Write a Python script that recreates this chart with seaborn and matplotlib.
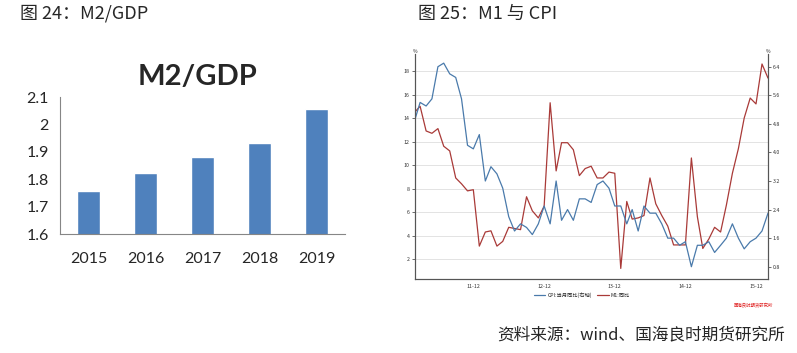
import matplotlib
matplotlib.use("Agg")
import matplotlib.pyplot as plt
import matplotlib.dates as mdates
from matplotlib.lines import Line2D
import seaborn as sns
import pandas as pd

# Data: M2/GDP
years = ["2015", "2016", "2017", "2018", "2019"]
m2_gdp = [1.757, 1.823, 1.882, 1.933, 2.058]

# Data: M1 and CPI, monthly 2011-02 .. 2016-02
months = pd.date_range("2011-02-01", "2016-02-01", freq="MS")
m1_yoy = [
    14.5, 15.0, 12.9, 12.7, 13.1, 11.6, 11.2, 8.9, 8.4, 7.8, 7.9,
    3.1, 4.3, 4.4, 3.1, 3.5, 4.7, 4.6, 4.5, 7.3, 6.1, 5.5, 6.5,
    15.3, 9.5, 11.9, 11.9, 11.3, 9.1, 9.7, 9.9, 8.9, 8.9, 9.4, 9.3,
    1.2, 6.9, 5.4, 5.5, 5.7, 8.9, 6.7, 5.7, 4.8, 3.2, 3.2, 3.2,
    10.6, 5.6, 2.9, 3.7, 4.7, 4.3, 6.6, 9.3, 11.4, 14.0, 15.7, 15.2,
    18.6, 17.4,
]
cpi_yoy = [
    4.9, 5.4, 5.3, 5.5, 6.4, 6.5, 6.2, 6.1, 5.5, 4.2, 4.1,
    4.5, 3.2, 3.6, 3.4, 3.0, 2.2, 1.8, 2.0, 1.9, 1.7, 2.0, 2.5,
    2.0, 3.2, 2.1, 2.4, 2.1, 2.7, 2.7, 2.6, 3.1, 3.2, 3.0, 2.5,
    2.5, 2.0, 2.4, 1.8, 2.5, 2.3, 2.3, 2.0, 1.6, 1.6, 1.4, 1.5,
    0.8, 1.4, 1.4, 1.5, 1.2, 1.4, 1.6, 2.0, 1.6, 1.3, 1.5, 1.6,
    1.8, 2.3,
]
left_ticks = [2, 4, 6, 8, 10, 12, 14, 16, 18]
right_ticks = [0.8, 1.6, 2.4, 3.2, 4.0, 4.8, 5.6, 6.4]

sns.set_style("white")
plt.rcParams["font.family"] = ["Noto Sans CJK SC", "DejaVu Sans"]
plt.rcParams["axes.unicode_minus"] = False

BAR_BLUE = "#4F81BD"
LINE_BLUE = "#4A7AAB"
LINE_RED = "#A93A38"

fig = plt.figure(figsize=(7.97, 3.53), dpi=100)

# Titles and source
fig.text(20 / 797, 1 - 14 / 353, "图 24：M2/GDP", fontsize=13, va="center", ha="left")
fig.text(418 / 797, 1 - 14 / 353, "图 25：M1 与 CPI", fontsize=13, va="center", ha="left")
fig.text(785 / 797, 1 - 335 / 353, "资料来源：wind、国海良时期货研究所",
         fontsize=12, va="center", ha="right")

# 1. M2/GDP bar chart
ax1 = fig.add_axes([60 / 797, 1 - 234 / 353, 285 / 797, 137 / 353])
df_bar = pd.DataFrame({"year": years, "ratio": m2_gdp})
sns.barplot(data=df_bar, x="year", y="ratio", color=BAR_BLUE, width=0.4,
            saturation=1, ax=ax1)
ax1.set_ylim(1.6, 2.1)
ax1.set_xlim(-0.5, len(years) - 0.5)
ax1.set_yticks([1.6, 1.7, 1.8, 1.9, 2.0, 2.1])
ax1.set_yticklabels(["1.6", "1.7", "1.8", "1.9", "2", "2.1"],
                    fontsize=11.5, family="Lato")
ax1.set_xticks(range(len(years)))
ax1.set_xticklabels(years, fontsize=11.5, family="Lato")
ax1.set_xticks([i - 0.5 for i in range(len(years) + 1)], minor=True)
ax1.tick_params(axis="x", which="major", length=0, pad=13)
ax1.tick_params(axis="x", which="minor", length=5, color="#868686", width=0.8)
ax1.tick_params(axis="y", length=3, color="#868686", width=0.8, pad=5)
ax1.set_xlabel("")
ax1.set_ylabel("")
for side in ["top", "right"]:
    ax1.spines[side].set_visible(False)
for side in ["left", "bottom"]:
    ax1.spines[side].set_color("#868686")
    ax1.spines[side].set_linewidth(0.8)
fig.text(197 / 797, 1 - 77 / 353, "M2/GDP", fontsize=21, fontweight="bold",
         family="Lato", ha="center", va="center")

# 2. M1 & CPI line chart with twin axis
ax2 = fig.add_axes([414.7 / 797, 1 - 279 / 353, 353.3 / 797, 225 / 353])
ax3 = ax2.twinx()
sns.lineplot(x=months, y=m1_yoy, ax=ax2, color=LINE_RED, linewidth=0.9)
sns.lineplot(x=months, y=cpi_yoy, ax=ax3, color=LINE_BLUE, linewidth=0.9)
ax2.set_xlim(months[0], months[-1])
ax2.set_ylim(0.3, 19.45)
ax3.set_ylim(0.456, 6.756)
ax2.set_yticks(left_ticks)
ax2.set_yticklabels([str(v) for v in left_ticks])
ax3.set_yticks(right_ticks)
ax3.set_yticklabels([f"{v:.1f}" for v in right_ticks])
ax2.yaxis.grid(True, color="#E3E3E3", linewidth=0.7)
ax2.set_axisbelow(True)

label_dates = pd.to_datetime(["2011-12-01", "2012-12-01", "2013-12-01",
                              "2014-12-01", "2015-12-01"])
minor_dates = pd.to_datetime(["2011-03-01", "2012-06-01", "2013-06-01",
                              "2014-06-01", "2015-06-01"])
ax2.set_xticks(label_dates)
ax2.xaxis.set_major_formatter(mdates.DateFormatter("%y-%m"))
ax2.set_xticks(minor_dates, minor=True)
for a in (ax2, ax3):
    a.set_xlabel("")
    a.set_ylabel("")
    a.spines["top"].set_visible(False)
    for side in ["left", "right", "bottom"]:
        a.spines[side].set_color("#555555")
        a.spines[side].set_linewidth(0.8)
    a.tick_params(axis="both", which="both", labelsize=3.8, length=2,
                  width=0.6, color="#555555", labelcolor="#333333", pad=1.5)
ax2.text(0, 1.0, "%", transform=ax2.transAxes, fontsize=3.5, ha="center", va="bottom")
ax3.text(1, 1.0, "%", transform=ax3.transAxes, fontsize=3.5, ha="center", va="bottom")

handles = [Line2D([], [], color=LINE_BLUE, linewidth=0.9),
           Line2D([], [], color=LINE_RED, linewidth=0.9)]
fig.legend(handles, ["CPI:当月同比(右轴)", "M1:同比"], loc="center",
           bbox_to_anchor=(582 / 797, 1 - 295.5 / 353), ncol=2, frameon=False,
           fontsize=3.8, handlelength=2.2, columnspacing=1.0, handletextpad=0.4)
fig.text(773 / 797, 1 - 305 / 353, "国海良时期货研究所", fontsize=3.2,
         color="#E02020", style="italic", ha="right", va="center")

fig.savefig("out.png", dpi=100)
